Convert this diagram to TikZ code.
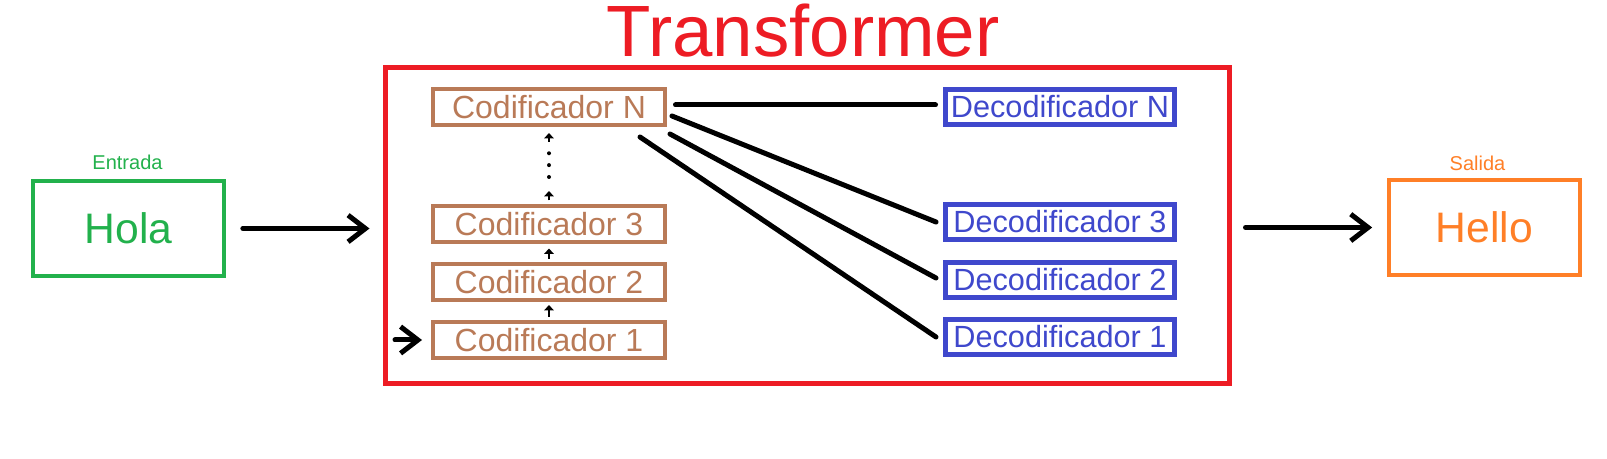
\documentclass[tikz,border=0pt]{standalone}
\usepackage{fontspec}
\setmainfont{Liberation Sans}
\usetikzlibrary{arrows.meta,calc}

\definecolor{trRed}{RGB}{237,28,36}
\definecolor{inGreen}{RGB}{34,177,76}
\definecolor{outOrange}{RGB}{255,127,39}
\definecolor{encBrown}{RGB}{185,122,87}
\definecolor{decBlue}{RGB}{63,72,204}

\tikzset{every picture/.style={line width=0.75pt}}
\tikzset{
  iobox/.style={draw, line width=3pt, minimum width=143pt, minimum height=71pt, inner sep=0pt, font=\fontsize{32}{38}\selectfont},
  encbox/.style={draw=encBrown, text=encBrown, line width=3pt, minimum width=174pt, minimum height=27pt, inner sep=0pt, font=\fontsize{24}{28}\selectfont},
  decbox/.style={draw=decBlue, text=decBlue, line width=3.5pt, minimum width=172pt, minimum height=26.5pt, inner sep=0pt, font=\fontsize{23}{27}\selectfont},
  iolabel/.style={inner sep=0pt, font=\fontsize{15}{18}\selectfont},
  bigarrow/.style={line width=3.75pt, line cap=round, -{Straight Barb[length=13pt,width=20pt]}},
  tinyarrow/.style={line width=1.8pt, -{Triangle[length=4pt,width=7pt]}},
  link/.style={line width=3.75pt, line cap=round},
}

\begin{document}
\begin{tikzpicture}[x=0.75pt,y=0.75pt,yscale=-1,xscale=1]
\path [use as bounding box] (0,0) rectangle (1607,459);

%Transformer frame
\draw (807,226) node [draw=trRed, line width=3.75pt, minimum width=633pt, minimum height=237pt, inner sep=0pt] (tr) {};
% Text Node
\draw (803,31) node [text=trRed, inner sep=0pt, font=\fontsize{54.5}{60}\selectfont] (title) {Transformer};

%Input and output
\draw (128.5,228.5) node [iobox, draw=inGreen, text=inGreen] (hola) {Hola};
\draw (1484.5,227.5) node [iobox, draw=outOrange, text=outOrange] (hello) {Hello};
% Text Node
\draw (127.5,162) node [iolabel, text=inGreen] (entrada) {Entrada};
% Text Node
\draw (1477.5,163) node [iolabel, text=outOrange] (salida) {Salida};

%Encoders
\draw (549,107) node [encbox] (cN) {Codificador N};
\draw (549,224.5) node [encbox] (c3) {Codificador 3};
\draw (549,282) node [encbox] (c2) {Codificador 2};
\draw (549,340) node [encbox] (c1) {Codificador 1};

%Decoders
\draw (1060,107) node [decbox] (dN) {Decodificador N};
\draw (1060,222) node [decbox] (d3) {Decodificador 3};
\draw (1060,280) node [decbox] (d2) {Decodificador 2};
\draw (1060,337) node [decbox] (d1) {Decodificador 1};

%Straight Lines
\draw [bigarrow, shorten <=12.75pt, shorten >=9.75pt] (hola.east) -- (hola.east -| tr.west);
\draw [bigarrow, shorten <=10.5pt, shorten >=11.25pt] (tr.east |- hello.west) -- (hello.west);
\coordinate (feed) at (395,340);
\draw [bigarrow, shorten >=6.75pt] (feed) -- (feed -| c1.west);

%Encoder stack
\draw [tinyarrow, shorten <=2.25pt, shorten >=2.25pt] (c1) -- (c2);
\draw [tinyarrow, shorten <=2.25pt, shorten >=3pt] (c2) -- (c3);
\coordinate (dotLo) at (549,191);
\coordinate (dotHi) at (549,142);
\draw [tinyarrow, shorten <=3pt] (c3) -- (dotLo);
\draw [line width=3pt, line cap=round, dash pattern=on 0pt off 8.9pt, shorten <=10.5pt, shorten >=8.25pt] (dotLo) -- (dotHi);
\draw [tinyarrow, shorten >=4.5pt] (dotHi) -- (cN);

%Links to the decoders
\draw [link] ($(cN.east)+(8.5,-2)$) -- ($(dN.west)+(-7.5,-2)$);
\draw [link] ($(cN.east)+(5,9)$) -- ($(d3.west)+(-7,0)$);
\draw [link] ($(cN.east)+(3,27)$) -- ($(d2.west)+(-7,-2)$);
\draw [link] ($(cN.east)+(-27,30)$) -- ($(d1.west)+(-7,0)$);

\end{tikzpicture}
\end{document}
